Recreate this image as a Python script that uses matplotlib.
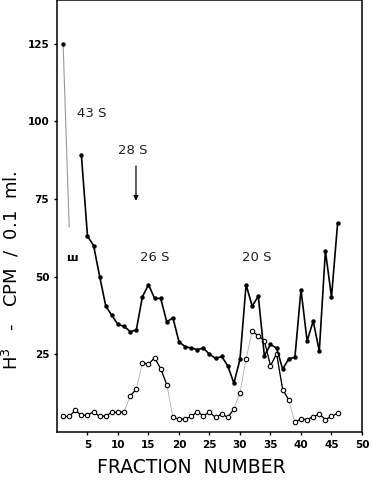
import numpy as np
import matplotlib
matplotlib.use("Agg")
import matplotlib.pyplot as plt

# ---- data ----
fractions = np.arange(1, 47)
total_cpm = [125, np.nan, np.nan, 89, 63, 60, 50, 40.5, 37.5, 34.6,
             34, 32.3, 32.8, 43.5, 47.4, 43, 43, 35.4, 36.8, 29,
             27.5, 27, 26.5, 27, 25, 23.7, 24.3, 21.3, 15.7, 23.4,
             47.4, 40.5, 43.7, 24.5, 28.2, 27, 20.2, 23.6, 24, 45.8,
             29.3, 35.7, 26, 58.3, 43.4, 67.2]
drop_x = [1, 2]
drop_y = [125, 66]
open_cpm = [5, 5, 7, 5.4, 5.4, 6.5, 5, 5.2, 6.3, 6.3,
            6.5, 11.6, 13.8, 22.3, 21.8, 23.9, 20.4, 15.2, 4.7, 4.2,
            4.2, 5, 6.5, 5.2, 6.4, 4.7, 5.8, 4.7, 7.4, 12.7,
            23.6, 32.5, 30.9, 29.3, 21.3, 25.2, 13.6, 10.3, 3.1, 4.2,
            4, 4.9, 5.8, 4, 5, 6.1]
open_groups = [(1, 11), (12, 13), (14, 18), (19, 29), (32, 38), (39, 46)]
x_ticks = [5, 10, 15, 20, 25, 30, 35, 40, 45, 50]
y_ticks = [25, 50, 75, 100, 125]
peak_labels = ["43 S", "28 S", "26 S", "20 S"]
peak_pos = [(5.7, 102.5), (12.5, 90.5), (16.0, 56), (32.7, 56)]

fig = plt.figure(figsize=(3.73, 4.87), dpi=100)
ax = fig.add_axes([0.1528, 0.1129, 0.8177, 0.8871])
ax.set_xlim(0, 50)
ax.set_ylim(0, 139)

tc = np.array(total_cpm, dtype=float)
oc = np.array(open_cpm, dtype=float)

# faint full connection of the open series
ax.plot(fractions, oc, color="#b0b0b0", lw=0.6, zorder=1)
for a, b in open_groups:
    m = (fractions >= a) & (fractions <= b)
    ax.plot(fractions[m], oc[m], color="black", lw=0.9, zorder=2)
ax.plot(fractions, oc, ls="none", marker="o", ms=3.2, mfc="white",
        mec="black", mew=0.8, zorder=3)

# filled series
ax.plot(drop_x, drop_y, color="#999999", lw=0.8, zorder=2)
ax.plot(fractions, tc, color="black", lw=1.2, marker="o", ms=2.2,
        zorder=4)

# annotations
for lab, (x, y) in zip(peak_labels, peak_pos):
    ax.text(x, y, lab, ha="center", va="center", fontsize=9.5,
            color="#222222")
ax.annotate("", xy=(12.95, 73.5), xytext=(12.95, 86.5),
            arrowprops=dict(arrowstyle="-|>", color="black", lw=0.9,
                            mutation_scale=7))
ax.text(2.5, 56, "ш", ha="center", va="center", fontsize=8,
        fontweight="bold")

ax.set_xticks(x_ticks)
ax.set_yticks(y_ticks)
ax.set_xticklabels([str(t) for t in x_ticks], fontsize=7.5,
                   fontweight="bold")
ax.set_yticklabels([str(t) for t in y_ticks], fontsize=7.5,
                   fontweight="bold")
ax.tick_params(axis="both", direction="out", length=2, width=1)
for s in ax.spines.values():
    s.set_linewidth(1.1)

fig.text(0.512, 0.040, "FRACTION  NUMBER", ha="center", va="center",
         fontsize=13.5)
fig.text(0.03, 0.445, "H$^3$   -   CPM  /  0.1  ml.", rotation=90,
         ha="center", va="center", fontsize=13)

fig.savefig("out.png", dpi=100)
